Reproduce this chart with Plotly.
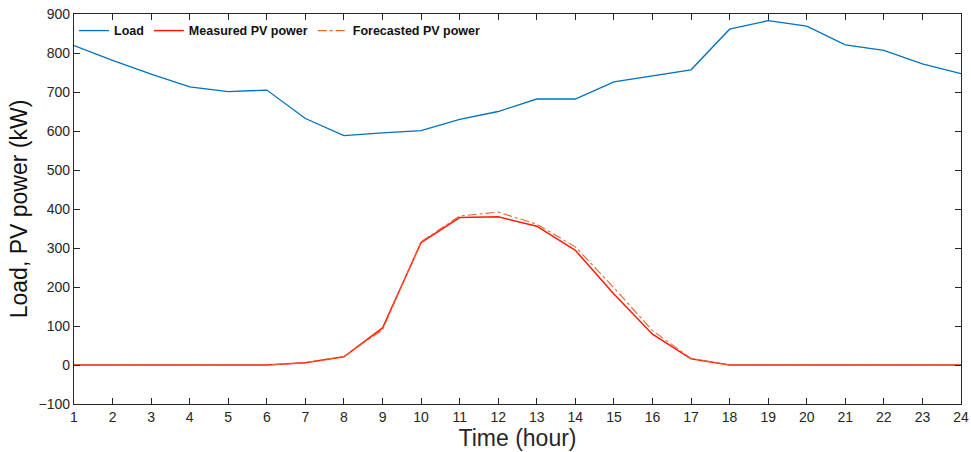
import plotly.graph_objects as go

hours = list(range(1, 25))
load = [819, 781, 746, 713, 701, 705, 632, 588, 595, 601, 630, 650,
        682, 682, 726, 742, 757, 861, 883, 869, 821, 807, 772, 747]
pv_measured = [0, 0, 0, 0, 0, 0, 6, 21, 95, 314, 378, 380,
               356, 294, 182, 79, 16, 0, 0, 0, 0, 0, 0, 0]
pv_forecast = [0, 0, 0, 0, 0, 0, 6, 22, 90, 316, 382, 392,
               361, 303, 198, 88, 17, 0, 0, 0, 0, 0, 0, 0]

fig = go.Figure()
fig.add_trace(go.Scatter(x=hours, y=load, mode="lines", name="Load",
                         line=dict(color="#0072BD", width=1.3)))
fig.add_trace(go.Scatter(x=hours, y=pv_measured, mode="lines", name="Measured PV power",
                         line=dict(color="#FF1A0A", width=1.5)))
fig.add_trace(go.Scatter(x=hours, y=pv_forecast, mode="lines", name="Forecasted PV power",
                         line=dict(color="#E8642A", width=1.1, dash="dashdot")))

axis_common = dict(showgrid=False, zeroline=False, showline=True, mirror="ticks",
                   linecolor="#262626", linewidth=1.2, ticks="inside", ticklen=6,
                   tickcolor="#262626", tickwidth=1, automargin=False,
                   tickfont=dict(family="Liberation Sans, Arial", size=14, color="#262626"))

fig.update_layout(
    width=971, height=452,
    margin=dict(l=74, r=10, t=14, b=48),
    plot_bgcolor="white", paper_bgcolor="white",
    xaxis=dict(range=[1, 24], tickmode="array", tickvals=hours,
               title=dict(text="Time (hour)", standoff=2,
                          font=dict(family="Liberation Sans, Arial", size=23, color="#262626")),
               **axis_common),
    yaxis=dict(range=[-100, 900], tickmode="array",
               tickvals=[-100, 0, 100, 200, 300, 400, 500, 600, 700, 800, 900],
               title=dict(text="Load, PV power (kW)", standoff=4,
                          font=dict(family="Liberation Sans, Arial", size=23, color="#111111")),
               **axis_common),
    legend=dict(orientation="h", x=0.0, y=0.995, xanchor="left", yanchor="top",
                bgcolor="rgba(255,255,255,0)",
                font=dict(family="Liberation Sans, Arial", size=12.5, color="#111111",
                          weight="bold"),
                itemwidth=30, tracegroupgap=0),
    showlegend=True,
)

fig.write_html("out.html")
